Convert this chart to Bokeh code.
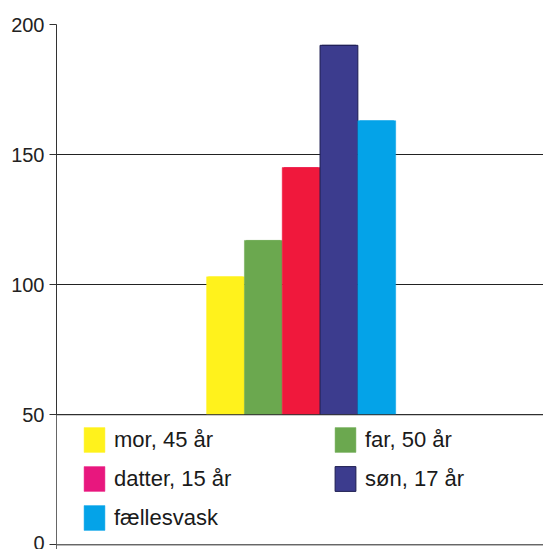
from bokeh.plotting import figure
from bokeh.models import (Range1d, FixedTicker, Span, BoxAnnotation, Legend, LegendItem,
                          ColumnDataSource)
from bokeh.embed import file_html
from bokeh.resources import INLINE

# ---- data ----
names = ["mor, 45 år", "far, 50 år", "datter, 15 år", "søn, 17 år", "fællesvask"]
values = [103, 117, 145, 192, 163]
bar_colors = ["#FFF21C", "#6BA84F", "#F0183C", "#3C3C8E", "#04A3E8"]
legend_colors = ["#FFF21C", "#6BA84F", "#E8177E", "#3C3C8E", "#04A3E8"]
outline_colors = [None, None, None, "#1C1C50", None]
y_ticks = [0, 50, 100, 150, 200]
legend_order = ["mor, 45 år", "datter, 15 år", "fællesvask", "far, 50 år", "søn, 17 år"]

FONT = "Liberation Sans"

p = figure(width=543, height=549, output_backend="svg", toolbar_location=None,
           x_range=Range1d(0, 12.88), y_range=Range1d(-1.8, 200),
           min_border_left=56, min_border_top=24, min_border_right=0, min_border_bottom=0,
           x_axis_type=None)
p.outline_line_color = None
p.background_fill_color = "white"
p.border_fill_color = "white"
p.xgrid.visible = False

p.yaxis.ticker = FixedTicker(ticks=y_ticks)
p.yaxis.minor_tick_line_color = None
p.yaxis.major_tick_out = 7
p.yaxis.major_tick_in = 0
p.yaxis.major_label_standoff = 5
p.yaxis.major_label_text_font = FONT
p.yaxis.major_label_text_font_size = "20px"
p.yaxis.major_label_text_color = "#222222"
p.yaxis.axis_line_color = "#333333"
p.yaxis.major_tick_line_color = "#333333"
p.ygrid.grid_line_color = "#222222"
p.ygrid.grid_line_width = 1

sources = [ColumnDataSource(dict(x=[4.47 + i], top=[v])) for i, v in enumerate(values)]

# legend swatch renderers (hidden underneath the bars, drawn first)
swatch = {}
for n, src, lc, oc in zip(names, sources, legend_colors, outline_colors):
    swatch[n] = p.vbar(x="x", top="top", bottom=0, width=0.9, source=src, fill_color=lc,
                       line_color=oc if oc else lc, line_width=1 if oc else 0.5)

for n, src, c, oc in zip(names, sources, bar_colors, outline_colors):
    p.vbar(x="x", top="top", bottom=0, width=1.0, source=src,
           fill_color=c, line_color=oc if oc else c, line_width=1 if oc else 0.5)

# white panel under the 50 line holding the legend
p.add_layout(BoxAnnotation(top=50, fill_color="white", fill_alpha=1.0, line_alpha=0))
for t in (0, 50):
    p.add_layout(Span(location=t, dimension="width", line_color="#222222", line_width=1))

items = [LegendItem(label=n, renderers=[swatch[n]]) for n in legend_order]
legend = Legend(items=items, nrows=3, location=(25, 16),
                glyph_width=26, glyph_height=31, label_standoff=7,
                label_width=210, label_height=31, spacing=8,
                padding=0, margin=0, border_line_alpha=0, background_fill_alpha=0,
                label_text_font=FONT, label_text_font_size="22px",
                label_text_color="#1A1A1A")
p.add_layout(legend)

open("out.html", "w").write(file_html(p, INLINE))
